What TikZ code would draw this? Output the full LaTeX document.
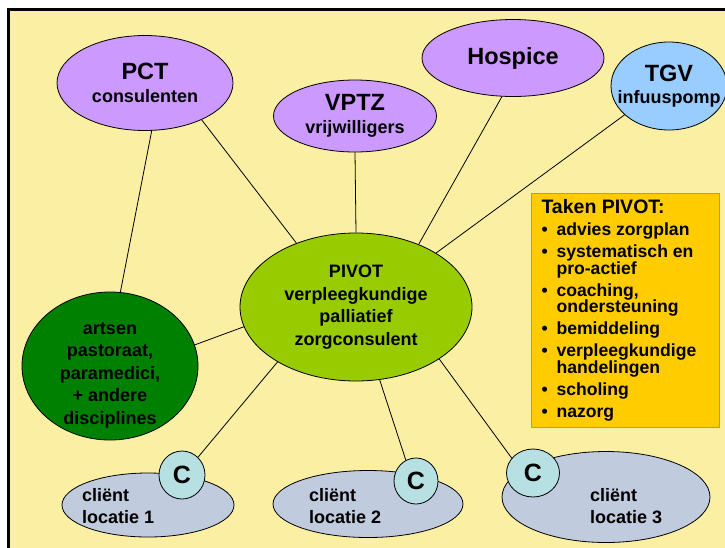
\documentclass[tikz,border=0pt]{standalone}
\usepackage{fontspec}
\setmainfont{Liberation Sans}
\usetikzlibrary{shapes.geometric}

\definecolor{slideyellow}{RGB}{251,239,163}
\definecolor{lavender}{RGB}{204,153,255}
\definecolor{tgvblue}{RGB}{153,204,255}
\definecolor{pivotgreen}{RGB}{153,204,0}
\definecolor{artsgreen}{RGB}{0,128,0}
\definecolor{takenorange}{RGB}{255,204,0}
\definecolor{takenrand}{RGB}{150,150,200}
\definecolor{clientgrey}{RGB}{192,204,222}
\definecolor{cblue}{RGB}{183,224,226}

\newcommand\bigtext{\fontsize{23.5}{23}\selectfont}
\newcommand\smalltext{\fontsize{18}{22.5}\selectfont}
\newcommand\takentext{\fontsize{17.6}{16.5}\selectfont}
\newcommand\takenitem[1]{\par\noindent\hangindent=15pt\hangafter=1\makebox[15pt][l]{\textbullet}#1}
\newcommand\clientloc[6]{
  \node[client, minimum width=#4, minimum height=#5] (cl#1) at (#2,#3) {};
  \node[clienttext] (cl#1txt) at (#6,506) {cliënt\\locatie #1};
}

\tikzset{
  bubble/.style={ellipse, draw, line width=0.8pt, inner sep=-12pt, align=center, font=\smalltext\bfseries},
  client/.style={ellipse, draw, line width=0.8pt, fill=clientgrey},
  clienttext/.style={anchor=west, align=left, inner sep=0pt, font=\smalltext\bfseries},
  cbubble/.style={ellipse, draw, line width=0.8pt, fill=cblue, inner sep=0pt, font=\fontsize{25}{25}\selectfont\bfseries},
  takenbox/.style={rectangle, draw=takenrand, line width=1pt, fill=takenorange, anchor=north west,
    minimum width=188pt, minimum height=234pt, inner xsep=10pt, inner ysep=0pt},
  link/.style={line width=0.8pt},
}

\begin{document}
\begin{tikzpicture}[x=1pt,y=-1pt]
  \useasboundingbox (0,0) rectangle (725,547);
  \fill[white] (0,0) rectangle (725,547);
  \draw[line width=3pt, fill=slideyellow] (8.5,9) rectangle (760,580);

  \node[bubble, fill=lavender, minimum width=176pt, minimum height=95pt] (pct) at (145,83) {{\bigtext PCT}\\consulenten};
  \node[bubble, fill=lavender, minimum width=163pt, minimum height=72pt] (vptz) at (355,116) {{\bigtext VPTZ}\\vrijwilligers};
  \node[bubble, fill=lavender, minimum width=182pt, minimum height=77pt, font=\bigtext\bfseries] (hospice) at (513,58) {Hospice};
  \node[bubble, fill=tgvblue, minimum width=116pt, minimum height=88pt] (tgv) at (669,86) {{\bigtext TGV}\\infuuspomp};
  \node[bubble, fill=pivotgreen, minimum width=232pt, minimum height=148pt] (pivot) at (356,307)
    {PIVOT\\verpleegkundige\\palliatief\\zorgconsulent};
  \node[bubble, fill=artsgreen, minimum width=176pt, minimum height=148pt,
    label={[font=\smalltext\bfseries, align=center, yshift=-9pt]center:{artsen\\pastoraat,\\paramedici,\\+ andere\\disciplines}}]
    (art) at (110,366) {};

  \node[takenbox] (taken) at (531,193) {\parbox{168pt}{\raggedright\takentext\bfseries
    \setlength\parskip{5.5pt}\lineskiplimit=-20pt
    \noindent{\fontsize{19.5}{16.5}\selectfont Taken PIVOT:}
    \takenitem{advies zorgplan}
    \takenitem{systematisch en\newline pro-actief}
    \takenitem{coaching,\newline ondersteuning}
    \takenitem{bemiddeling}
    \takenitem{verpleegkundige\newline handelingen}
    \takenitem{scholing}
    \takenitem{nazorg}}};

  \clientloc{1}{148}{505}{172pt}{64pt}{82}
  \clientloc{2}{368}{504}{190pt}{67pt}{309}
  \clientloc{3}{606}{497}{208pt}{91pt}{590}

  \node[cbubble, minimum width=46pt, minimum height=48pt] (c1) at (182,475) {C};
  \node[cbubble, minimum width=44pt, minimum height=46pt] (c2) at (416,481) {C};
  \node[cbubble, minimum width=53pt, minimum height=48pt] (c3) at (533,473) {C};

  \draw[link] (pct.-82) -- (art.82);
  \draw[link] (pct.-33) -- (pivot.133);
  \draw[link] (vptz.south) -- (pivot.north);
  \draw[link] (hospice.-106) -- (pivot.45);
  \draw[link] (tgv.-147) -- (pivot.34);
  \draw[link] (art.14) -- (pivot.190);
  \draw[link] (pivot.-145) -- (c1.48);
  \draw[link] (pivot.-72) -- (c2.116);
  \draw[link] (pivot.-32) -- (c3.145);
\end{tikzpicture}
\end{document}
